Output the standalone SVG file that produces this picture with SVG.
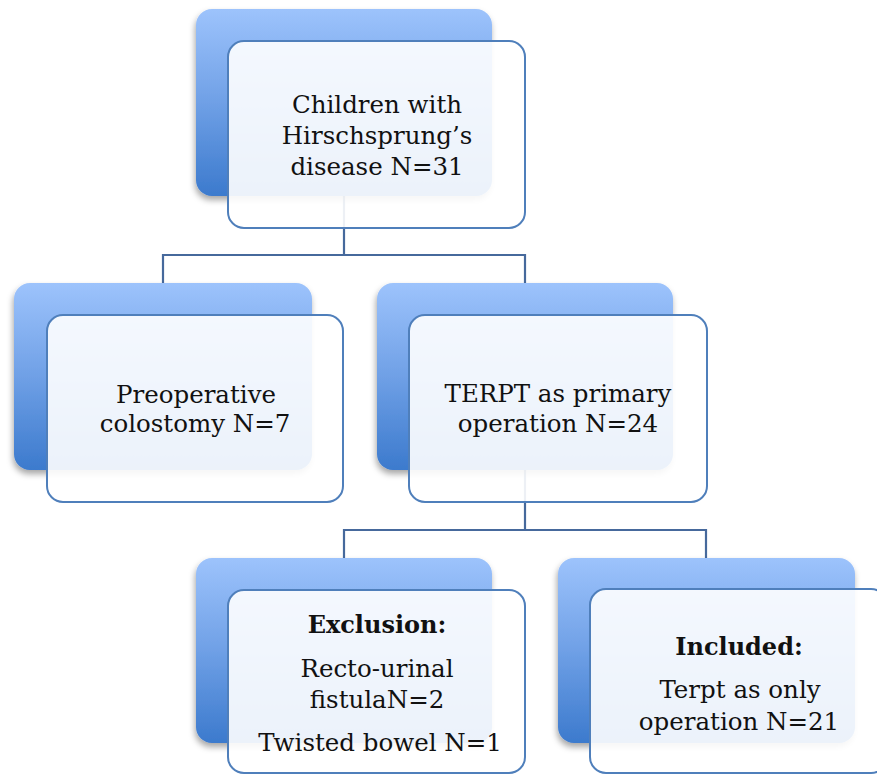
<svg xmlns="http://www.w3.org/2000/svg" width="877" height="776" viewBox="0 0 877 776">
<defs>
<linearGradient id="blueGrad" x1="0" y1="0" x2="0" y2="1">
<stop offset="0" stop-color="#9dc3fc"/>
<stop offset="0.5" stop-color="#6fa0e6"/>
<stop offset="1" stop-color="#3c7acd"/>
</linearGradient>
<filter id="shadow" x="-10%" y="-10%" width="120%" height="125%">
<feDropShadow dx="-1" dy="4" stdDeviation="3" flood-color="#000" flood-opacity="0.35"/>
</filter>
</defs>
<style>
.back{fill:url(#blueGrad);filter:url(#shadow);}
.front{fill:#ffffff;fill-opacity:0.9;stroke:#4f7fbb;stroke-width:2;}
.conn{fill:none;stroke:#46699c;stroke-width:2.2;}
text{font-family:"DejaVu Serif","Liberation Serif",serif;font-size:24.5px;fill:#111;text-anchor:middle;}
.b{font-weight:bold;font-size:24px;}
</style>
<rect width="877" height="776" fill="#ffffff"/>
<g id="connectors">
<path class="conn" d="M344,196 V255 H163 V283 M344,255 H525 V283"/>
<path class="conn" d="M525,470 V530 H344 V558 M525,530 H706 V558"/>
</g>
<g id="node-children">
<rect class="back" x="196" y="9" width="296" height="187" rx="16"/>
<rect class="front" x="228" y="41" width="297" height="187" rx="16"/>
<text x="377" y="113">Children with</text>
<text x="377" y="144">Hirschsprung’s</text>
<text x="377" y="175">disease N=31</text>
</g>
<g id="node-colostomy">
<rect class="back" x="14" y="283" width="298" height="187" rx="16"/>
<rect class="front" x="47" y="315" width="296" height="187" rx="16"/>
<text x="196" y="403">Preoperative</text>
<text x="195" y="432">colostomy N=7</text>
</g>
<g id="node-terpt">
<rect class="back" x="377" y="283" width="296" height="187" rx="16"/>
<rect class="front" x="409" y="315" width="298" height="187" rx="16"/>
<text x="558" y="402">TERPT as primary</text>
<text x="558" y="432">operation N=24</text>
</g>
<g id="node-exclusion">
<rect class="back" x="196" y="558" width="296" height="185" rx="16"/>
<rect class="front" x="228" y="590" width="297" height="183" rx="16"/>
<text class="b" x="377" y="633">Exclusion:</text>
<text x="377" y="677">Recto-urinal</text>
<text x="377" y="708">fistulaN=2</text>
<text x="380" y="751">Twisted bowel N=1</text>
</g>
<g id="node-included">
<rect class="back" x="558" y="558" width="297" height="185" rx="16"/>
<rect class="front" x="590" y="589" width="297" height="184" rx="16"/>
<text class="b" x="739" y="655">Included:</text>
<text x="740" y="698">Terpt as only</text>
<text x="739" y="730">operation N=21</text>
</g>
</svg>
